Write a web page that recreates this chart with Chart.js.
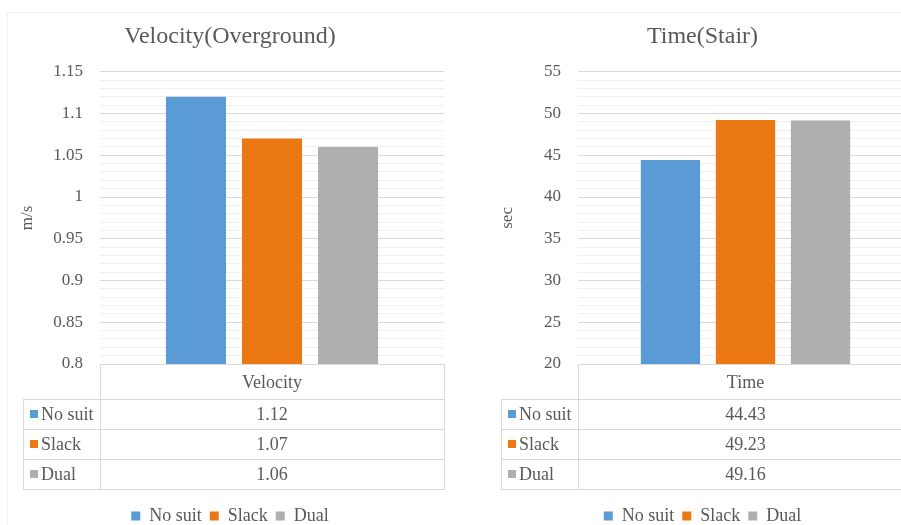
<!DOCTYPE html>
<html>
<head>
<meta charset="utf-8">
<script src="https://cdn.jsdelivr.net/npm/chart.js@4"></script>
<style>
  html, body { margin: 0; padding: 0; background: #fff; overflow: hidden; }
  #frame { position: absolute; left: 7px; top: 12px; width: 1000px; height: 600px; border: 1px solid #f2f2f2; }
  #left { position: absolute; left: 0; top: 0; }
  #rightWrap { position: absolute; left: 460px; top: 0; width: 441px; height: 525px; overflow: hidden; }
</style>
</head>
<body>
<div id="frame"></div>
<canvas id="left" width="460" height="535"></canvas>
<div id="rightWrap"><canvas id="right" width="485" height="535"></canvas></div>
<script>
const seriesNames = ['No suit', 'Slack', 'Dual'];
const seriesColors = ['#5B9BD5', '#EC7813', '#AFAFAF'];

const velocityCategory = ['Velocity'];
const velocityValues = [1.12, 1.07, 1.06];

const timeCategory = ['Time'];
const timeValues = [44.43, 49.23, 49.16];

const FONT = "'Liberation Serif', Tinos, 'Times New Roman', 'DejaVu Serif', serif";
const TXT = '#595959';

// Excel style data table under the plot
const dataTable = {
  id: 'dataTable',
  afterDraw(chart) {
    const ctx = chart.ctx;
    const a = chart.chartArea;
    const x = chart.scales.x;
    const headH = 35, rowH = 30, colW = 77;
    const left = a.left - colW;
    ctx.save();
    ctx.strokeStyle = '#d9d9d9';
    ctx.lineWidth = 1;
    ctx.strokeRect(Math.round(a.left) + 0.5, Math.round(a.bottom) + 0.5, a.right - a.left, headH);
    ctx.font = '18px ' + FONT;
    ctx.textBaseline = 'middle';
    chart.data.datasets.forEach((ds, i) => {
      const y = Math.round(a.bottom) + headH + i * rowH;
      ctx.strokeStyle = '#d9d9d9';
      ctx.strokeRect(Math.round(left) + 0.5, y + 0.5, a.right - left, rowH);
      ctx.beginPath();
      ctx.moveTo(Math.round(a.left) + 0.5, y);
      ctx.lineTo(Math.round(a.left) + 0.5, y + rowH);
      ctx.stroke();
      ctx.fillStyle = ds.backgroundColor;
      ctx.fillRect(left + 7, y + rowH / 2 - 4, 8, 8);
      ctx.fillStyle = TXT;
      ctx.textAlign = 'left';
      ctx.fillText(ds.label, left + 18, y + rowH / 2 + 1);
      ctx.textAlign = 'center';
      ctx.fillText(String(ds.data[0]), x.getPixelForValue(0), y + rowH / 2 + 1);
    });
    ctx.restore();
  }
};

function makeChart(id, title, cats, values, yTitle, yMin, yMax, step, major, sidePad, yWidth, yTitlePad, catPct) {
  const isMajor = v => Math.round(v / step) % Math.round(major / step) === 0;
  return new Chart(document.getElementById(id), {
    type: 'bar',
    data: {
      labels: cats,
      datasets: seriesNames.map((name, i) => ({
        label: name,
        data: [values[i]],
        backgroundColor: seriesColors[i],
        categoryPercentage: catPct,
        barPercentage: 0.79
      }))
    },
    options: {
      responsive: false,
      animation: false,
      layout: { padding: { left: sidePad, right: sidePad, top: 0, bottom: 0 } },
      plugins: {
        title: {
          display: true,
          text: title,
          color: TXT,
          font: { family: FONT, size: 24, weight: 'normal' },
          padding: { top: 22, bottom: 21 }
        },
        legend: {
          position: 'bottom',
          labels: {
            color: TXT,
            font: { family: FONT, size: 18 },
            boxWidth: 9,
            boxHeight: 9,
            padding: 8
          }
        },
        tooltip: { enabled: false }
      },
      scales: {
        x: {
          grid: { display: false },
          border: { display: false },
          ticks: { color: TXT, font: { family: FONT, size: 18 }, padding: 0 },
          afterFit: s => { s.height = 135; }
        },
        y: {
          min: yMin,
          max: yMax,
          border: { display: false },
          grid: {
            drawTicks: false,
            color: c => isMajor(c.tick.value) ? '#d9d9d9' : '#efefef'
          },
          ticks: {
            stepSize: step,
            autoSkip: false,
            padding: 17,
            color: TXT,
            font: { family: FONT, size: 17 },
            callback: v => isMajor(v) ? String(+v.toFixed(2)) : ''
          },
          title: {
            display: true,
            text: yTitle,
            color: TXT,
            font: { family: FONT, size: 17 },
            padding: { top: yTitlePad, bottom: 0 }
          },
          afterFit: s => { s.width = yWidth; }
        }
      }
    },
    plugins: [dataTable]
  });
}

makeChart('left', 'Velocity(Overground)', velocityCategory, velocityValues, 'm/s',
  0.8, 1.15, 0.01, 0.05, 16, 84, 1, 0.663);
makeChart('right', 'Time(Stair)', timeCategory, timeValues, 'sec',
  20, 55, 1, 5, 32, 86, 5, 0.672);
</script>
</body>
</html>
